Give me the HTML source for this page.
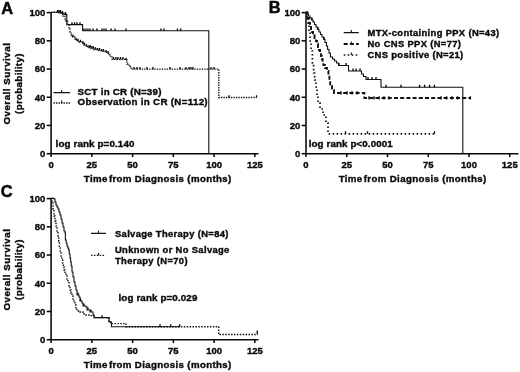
<!DOCTYPE html>
<html><head><meta charset="utf-8"><title>Overall survival</title>
<style>
html,body{margin:0;padding:0;background:#fff;}
body{width:520px;height:372px;overflow:hidden;}
svg{display:block;}
text{font-family:"Liberation Sans",sans-serif;font-weight:bold;fill:#0a0a0a;stroke:#0a0a0a;stroke-width:0.38px;}
.pl{stroke-width:0.5px;}
g.all{filter:blur(0.4px);}
.ax{stroke:#0a0a0a;stroke-width:1.55;fill:none;}
.c1{stroke:#111;stroke-width:1.1;fill:none;}
.dot{stroke:#111;stroke-width:1.3;fill:none;stroke-dasharray:1.4 1.1;}
.dot2{stroke:#111;stroke-width:1.7;fill:none;stroke-dasharray:1.6 2.4;}
.dash{stroke:#111;stroke-width:1.9;fill:none;stroke-dasharray:4 2.2;}
.dot3{stroke:#111;stroke-width:1.4;fill:none;stroke-dasharray:1.5 1.4;}
.c1b{stroke:#0a0a0a;stroke-width:1.35;fill:none;}
.tl{font-size:9.5px;}
.xt{font-size:9.7px;letter-spacing:0.35px;}
.yt{font-size:9.7px;letter-spacing:0.36px;}
.y1{letter-spacing:0.55px;}
.pl{font-size:16.4px;}
.lg{font-size:9.8px;letter-spacing:0.28px;}
.lr{font-size:9.8px;letter-spacing:0.12px;}
.lg2{font-size:9.4px;letter-spacing:0.35px;}
.lg3{font-size:9.4px;letter-spacing:0.35px;}
</style></head><body>
<svg width="520" height="372" viewBox="0 0 520 372">
<rect width="520" height="372" fill="#fff"/>
<g class="all">
<path d="M51.10,12.00 V153.70 H258.50" class="ax"/>
<path d="M51.10,153.70 h-4.4" class="ax"/>
<text x="45.40" y="157.00" class="tl" text-anchor="end">0</text>
<path d="M51.10,125.48 h-4.4" class="ax"/>
<text x="45.40" y="128.78" class="tl" text-anchor="end">20</text>
<path d="M51.10,97.26 h-4.4" class="ax"/>
<text x="45.40" y="100.56" class="tl" text-anchor="end">40</text>
<path d="M51.10,69.04 h-4.4" class="ax"/>
<text x="45.40" y="72.34" class="tl" text-anchor="end">60</text>
<path d="M51.10,40.82 h-4.4" class="ax"/>
<text x="45.40" y="44.12" class="tl" text-anchor="end">80</text>
<path d="M51.10,12.60 h-4.4" class="ax"/>
<text x="45.40" y="15.90" class="tl" text-anchor="end">100</text>
<path d="M51.10,153.70 v3.4" class="ax"/>
<text x="51.10" y="168.40" class="tl" text-anchor="middle">0</text>
<path d="M91.85,153.70 v3.4" class="ax"/>
<text x="91.85" y="168.40" class="tl" text-anchor="middle">25</text>
<path d="M132.60,153.70 v3.4" class="ax"/>
<text x="132.60" y="168.40" class="tl" text-anchor="middle">50</text>
<path d="M173.35,153.70 v3.4" class="ax"/>
<text x="173.35" y="168.40" class="tl" text-anchor="middle">75</text>
<path d="M214.10,153.70 v3.4" class="ax"/>
<text x="214.10" y="168.40" class="tl" text-anchor="middle">100</text>
<path d="M254.85,153.70 v3.4" class="ax"/>
<text x="254.85" y="168.40" class="tl" text-anchor="middle">125</text>
<text x="157.70" y="181.90" class="xt" text-anchor="middle">Time<tspan dx="-1.8"> from</tspan> Diagnosis (months)</text>
<text transform="translate(9.90,83.60) rotate(-90)" class="yt y1" text-anchor="middle">Overall Survival</text>
<text transform="translate(22.20,83.60) rotate(-90)" class="yt" text-anchor="middle">(probability)</text>
<text x="1.2" y="13.5" class="pl">A</text>
<path d="M51.10,12.30 H61.00 V13.30 H64.00 V14.40 H66.80 V24.60 H82.60 V30.70 H208.80 V153.70" class="c1"/>
<path d="M57.50,12.30 v-2.30 M59.00,12.30 v-2.30 M60.50,12.30 v-2.30 M62.50,13.30 v-2.30 M65.50,14.40 v-2.30 M72.00,24.60 v-2.30 M74.60,24.60 v-2.30 M77.00,24.60 v-2.30 M80.00,24.60 v-2.30 M84.00,30.70 v-2.30 M86.00,30.70 v-2.30 M88.00,30.70 v-2.30 M90.00,30.70 v-2.30 M93.00,30.70 v-2.30 M97.00,30.70 v-2.30 M102.00,30.70 v-2.30 M104.00,30.70 v-2.30 M106.00,30.70 v-2.30 M111.00,30.70 v-2.30 M115.00,30.70 v-2.30 M126.00,30.70 v-2.30 M161.00,30.70 v-2.30 M164.00,30.70 v-2.30 M177.50,30.70 v-2.30 M180.70,30.70 v-2.30" class="c1b"/>
<path d="M51.10,12.30 H58.00 V12.80 H61.00 V14.00 H63.00 V16.00 H65.00 V19.00 H66.00 V21.00 H67.50 V25.00 H69.00 V29.00 H70.00 V32.00 H71.00 V35.00 H72.50 V37.00 H75.00 V40.00 H77.00 V41.00 H79.00 V42.00 H82.00 V43.50 H84.00 V45.00 H86.00 V46.50 H88.00 V47.50 H91.00 V48.50 H94.00 V49.50 H97.00 V50.30 H101.00 V51.30 H105.00 V52.30 H107.00 V53.30 H109.00 V54.50 H110.50 V57.00 H112.00 V59.40 H125.00 V60.00 H127.00 V64.00 H129.00 V66.50 H131.00 V69.20 H218.80 V97.50 H256.50 V97.50" class="dot"/>
<path d="M73.00,37.00 v-2.30 M76.00,40.00 v-2.30 M78.00,41.00 v-2.30 M80.50,42.00 v-2.30 M83.00,43.50 v-2.30 M84.50,45.00 v-2.30 M86.50,46.50 v-2.30 M89.00,47.50 v-2.30 M90.50,47.50 v-2.30 M92.00,48.50 v-2.30 M93.50,48.50 v-2.30 M95.50,49.50 v-2.30 M97.50,50.30 v-2.30 M99.50,50.30 v-2.30 M101.50,51.30 v-2.30 M103.50,51.30 v-2.30 M106.00,52.30 v-2.30 M108.00,53.30 v-2.30 M113.50,59.40 v-2.30 M116.00,59.40 v-2.30 M118.00,59.40 v-2.30 M120.50,59.40 v-2.30 M123.00,59.40 v-2.30 M126.00,60.00 v-2.30 M134.00,69.20 v-2.30 M137.00,69.20 v-2.30 M140.00,69.20 v-2.30 M147.00,69.20 v-2.30 M153.00,69.20 v-2.30 M170.00,69.20 v-2.30 M180.00,69.20 v-2.30 M186.00,69.20 v-2.30 M189.00,69.20 v-2.30 M191.00,69.20 v-2.30 M193.00,69.20 v-2.30 M211.00,69.20 v-2.30 M214.00,69.20 v-2.30 M229.00,97.50 v-2.30 M256.50,97.50 v-2.30" class="c1b"/>
<path d="M53.5,92.6 H70 M61.7,92.6 v-2.6" class="c1"/>
<path d="M53.5,103 H70" class="dot"/><path d="M61.7,103 v-2.4" class="c1"/>
<text x="77.6" y="94.9" class="lg" style="letter-spacing:0.2px">SCT in CR (N=39)</text>
<text x="77.6" y="105.1" class="lg">Observation in CR (N=112)</text>
<text x="55.6" y="146.8" class="lr">log rank p=0.140</text>
<path d="M306.00,12.00 V153.70 H518.50" class="ax"/>
<path d="M306.00,153.70 h-4.4" class="ax"/>
<text x="300.30" y="157.00" class="tl" text-anchor="end">0</text>
<path d="M306.00,125.48 h-4.4" class="ax"/>
<text x="300.30" y="128.78" class="tl" text-anchor="end">20</text>
<path d="M306.00,97.26 h-4.4" class="ax"/>
<text x="300.30" y="100.56" class="tl" text-anchor="end">40</text>
<path d="M306.00,69.04 h-4.4" class="ax"/>
<text x="300.30" y="72.34" class="tl" text-anchor="end">60</text>
<path d="M306.00,40.82 h-4.4" class="ax"/>
<text x="300.30" y="44.12" class="tl" text-anchor="end">80</text>
<path d="M306.00,12.60 h-4.4" class="ax"/>
<text x="300.30" y="15.90" class="tl" text-anchor="end">100</text>
<path d="M306.00,153.70 v3.4" class="ax"/>
<text x="306.00" y="168.40" class="tl" text-anchor="middle">0</text>
<path d="M346.75,153.70 v3.4" class="ax"/>
<text x="346.75" y="168.40" class="tl" text-anchor="middle">25</text>
<path d="M387.50,153.70 v3.4" class="ax"/>
<text x="387.50" y="168.40" class="tl" text-anchor="middle">50</text>
<path d="M428.25,153.70 v3.4" class="ax"/>
<text x="428.25" y="168.40" class="tl" text-anchor="middle">75</text>
<path d="M469.00,153.70 v3.4" class="ax"/>
<text x="469.00" y="168.40" class="tl" text-anchor="middle">100</text>
<path d="M509.75,153.70 v3.4" class="ax"/>
<text x="509.75" y="168.40" class="tl" text-anchor="middle">125</text>
<text x="412.60" y="181.90" class="xt" text-anchor="middle">Time<tspan dx="-1.8"> from</tspan> Diagnosis (months)</text>
<text x="268.8" y="13.1" class="pl">B</text>
<path d="M306.00,12.40 H307.00 V14.00 H308.50 V16.00 H310.00 V18.00 H311.50 V20.00 H313.00 V22.00 H314.50 V24.50 H316.00 V27.00 H317.50 V29.50 H319.00 V32.00 H320.50 V34.50 H322.00 V37.00 H323.60 V39.50 H325.00 V42.50 H326.40 V46.00 H327.60 V49.50 H329.00 V53.00 H330.40 V57.00 H332.50 V59.00 H334.50 V61.00 H336.50 V63.00 H338.50 V65.50 H348.50 V71.00 H361.50 V74.00 H363.50 V76.50 H366.00 V79.50 H381.00 V87.20 H462.80 V153.70" class="c1"/>
<path d="M312.00,20.00 v-2.40 M318.00,29.50 v-2.40 M324.00,39.50 v-2.40 M339.00,65.50 v-2.40 M346.00,65.50 v-2.40 M353.00,71.00 v-2.40 M356.00,71.00 v-2.40 M360.00,71.00 v-2.40 M368.00,79.50 v-2.40 M372.00,79.50 v-2.40 M376.00,79.50 v-2.40 M386.00,87.20 v-2.40 M401.00,87.20 v-2.40 M419.60,87.20 v-2.40 M424.60,87.20 v-2.40 M429.60,87.20 v-2.40 M434.40,87.20 v-2.40" class="c1b"/>
<path d="M306.00,12.40 H307.50 V18.00 H309.00 V23.00 H310.00 V26.00 H311.00 V29.00 H312.00 V32.00 H313.00 V35.00 H314.50 V38.00 H316.00 V41.00 H317.00 V44.00 H318.00 V47.00 H319.00 V50.00 H320.00 V53.00 H321.00 V56.00 H321.80 V59.00 H322.60 V62.00 H323.40 V65.00 H325.00 V68.00 H327.00 V71.00 H328.40 V75.00 H329.40 V80.00 H330.20 V86.00 H332.00 V90.00 H334.00 V93.00 H364.40 V98.00 H470.60 V98.00" class="dash"/>
<path d="M341.00,94.60 v-3.40 M347.00,94.60 v-3.40 M352.00,94.60 v-3.40 M357.00,94.60 v-3.40 M369.00,99.60 v-3.40 M374.00,99.60 v-3.40 M379.00,99.60 v-3.40 M384.00,99.60 v-3.40 M389.00,99.60 v-3.40 M441.00,99.60 v-3.40 M446.50,99.60 v-3.40 M452.00,99.60 v-3.40 M457.50,99.60 v-3.40 M470.40,99.60 v-3.40" class="c1b"/>
<path d="M306.00,12.40 H307.00 V17.00 H308.00 V23.00 H309.00 V31.00 H310.00 V41.00 H311.00 V51.00 H312.40 V63.00 H313.60 V73.00 H314.60 V80.00 H316.00 V87.00 H317.00 V95.00 H318.00 V103.00 H320.00 V109.00 H323.00 V115.00 H326.00 V123.00 H328.00 V133.80 H434.50 V133.80" class="dot2"/>
<path d="M345.50,133.80 v-2.60 M367.50,133.80 v-2.60 M434.50,133.80 v-2.60" class="c1b"/>
<path d="M343.7,32.6 H358.8 M351.3,32.6 v-2.6" class="c1"/>
<path d="M343.7,44 H358.8" class="dash"/><path d="M351.3,44 v-2.6" class="c1"/>
<path d="M343.7,55 H358.8" class="dot2"/><path d="M351.3,55 v-2.6" class="c1"/>
<text x="367.5" y="36.1" class="lg2">MTX-containing PPX (N=43)</text>
<text x="367.5" y="47.4" class="lg2">No CNS PPX (N=77)</text>
<text x="367.5" y="58" class="lg2">CNS positive (N=21)</text>
<text x="308.7" y="147.1" class="lg" style="letter-spacing:0.1px">log rank p&lt;0.0001</text>
<path d="M51.10,198.00 V339.70 H258.50" class="ax"/>
<path d="M51.10,339.70 h-4.4" class="ax"/>
<text x="45.40" y="343.00" class="tl" text-anchor="end">0</text>
<path d="M51.10,311.48 h-4.4" class="ax"/>
<text x="45.40" y="314.78" class="tl" text-anchor="end">20</text>
<path d="M51.10,283.26 h-4.4" class="ax"/>
<text x="45.40" y="286.56" class="tl" text-anchor="end">40</text>
<path d="M51.10,255.04 h-4.4" class="ax"/>
<text x="45.40" y="258.34" class="tl" text-anchor="end">60</text>
<path d="M51.10,226.82 h-4.4" class="ax"/>
<text x="45.40" y="230.12" class="tl" text-anchor="end">80</text>
<path d="M51.10,198.60 h-4.4" class="ax"/>
<text x="45.40" y="201.90" class="tl" text-anchor="end">100</text>
<path d="M51.10,339.70 v3.4" class="ax"/>
<text x="51.10" y="354.40" class="tl" text-anchor="middle">0</text>
<path d="M91.85,339.70 v3.4" class="ax"/>
<text x="91.85" y="354.40" class="tl" text-anchor="middle">25</text>
<path d="M132.60,339.70 v3.4" class="ax"/>
<text x="132.60" y="354.40" class="tl" text-anchor="middle">50</text>
<path d="M173.35,339.70 v3.4" class="ax"/>
<text x="173.35" y="354.40" class="tl" text-anchor="middle">75</text>
<path d="M214.10,339.70 v3.4" class="ax"/>
<text x="214.10" y="354.40" class="tl" text-anchor="middle">100</text>
<path d="M254.85,339.70 v3.4" class="ax"/>
<text x="254.85" y="354.40" class="tl" text-anchor="middle">125</text>
<text x="157.70" y="367.90" class="xt" text-anchor="middle">Time<tspan dx="-1.8"> from</tspan> Diagnosis (months)</text>
<text transform="translate(9.90,269.60) rotate(-90)" class="yt y1" text-anchor="middle">Overall Survival</text>
<text transform="translate(22.20,269.60) rotate(-90)" class="yt" text-anchor="middle">(probability)</text>
<text x="0.8" y="196.6" class="pl">C</text>
<path d="M51.10,198.40 H54.00 V199.00 H55.00 V202.00 H56.00 V205.00 H57.00 V207.00 H58.00 V209.00 H59.00 V212.00 H60.00 V215.00 H61.00 V219.00 H62.00 V223.00 H63.00 V227.00 H64.00 V231.00 H65.00 V233.00 H65.40 V240.00 H66.20 V243.00 H67.00 V246.00 H67.80 V248.00 H68.60 V250.00 H69.30 V254.00 H70.00 V258.00 H70.60 V262.00 H71.20 V266.00 H72.00 V272.00 H73.00 V277.00 H74.00 V282.00 H75.00 V286.00 H76.00 V290.00 H77.00 V295.00 H79.00 V297.00 H80.00 V301.00 H82.00 V303.00 H83.00 V306.00 H86.00 V307.00 H87.00 V310.00 H90.00 V312.00 H93.00 V315.00 H94.00 V317.60 H109.00 V322.00 H111.00 V323.00 H111.40 V326.70 H180.00 V326.70" class="c1"/>
<path d="M78.00,295.00 v-2.40 M80.60,301.00 v-2.40 M84.00,306.00 v-2.40 M88.00,310.00 v-2.40 M91.00,312.00 v-2.40 M102.00,317.60 v-2.40 M160.00,326.70 v-2.40 M170.70,326.70 v-2.40 M179.60,326.70 v-2.40" class="c1b"/>
<path d="M51.10,198.40 H52.00 V202.00 H53.00 V209.00 H54.00 V216.00 H55.00 V221.00 H56.00 V226.00 H57.00 V231.00 H58.00 V236.00 H58.70 V241.00 H59.40 V246.00 H60.20 V251.00 H61.00 V256.00 H61.80 V260.00 H62.60 V264.00 H63.30 V267.00 H64.00 V270.00 H65.00 V273.00 H66.00 V276.00 H67.00 V279.00 H68.00 V282.00 H69.00 V286.00 H70.00 V290.00 H71.00 V293.00 H72.00 V296.00 H73.00 V299.00 H74.00 V302.00 H75.00 V305.00 H76.00 V308.00 H77.00 V311.00 H80.00 V312.00 H83.00 V314.00 H86.00 V315.00 H90.00 V315.60 H94.00 V317.60 H109.00 V322.00 H111.00 V323.60 H126.00 V326.70 H218.70 V334.50 H257.50 V334.50" class="dot3"/>
<path d="M257.30,334.50 v-4.00" class="c1b"/>
<path d="M91,233.4 H106 M98.5,233.4 v-2.6" class="c1"/>
<path d="M91,255.4 H105" class="dot3"/><path d="M98.5,255.4 v-2.4" class="c1"/>
<text x="115" y="237.2" class="lg3">Salvage Therapy (N=84)</text>
<text x="115" y="253.4" class="lg3">Unknown or No Salvage</text>
<text x="115" y="264.4" class="lg3">Therapy (N=70)</text>
<text x="118.5" y="300.8" class="lr">log rank p=0.029</text>
</g>
</svg>
</body></html>
